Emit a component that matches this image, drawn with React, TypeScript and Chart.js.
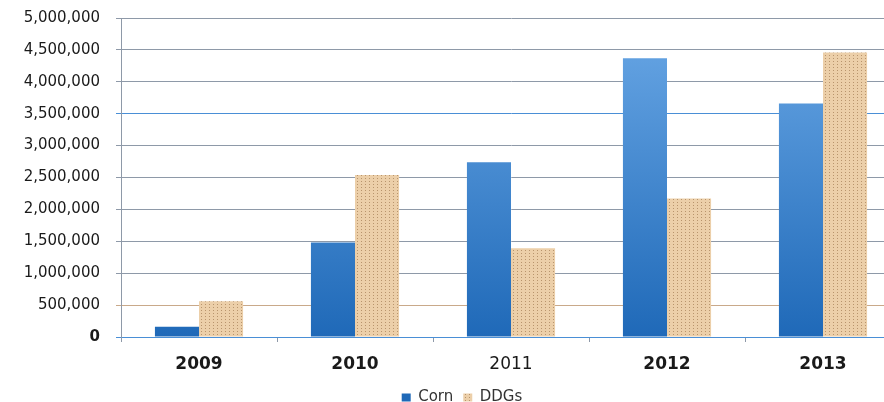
import React, { useEffect, useRef } from "react";
import { Chart, registerables } from "chart.js";

Chart.register(...registerables);

// Annual exports (tonnes) by product
const years = ["2009", "2010", "2011", "2012", "2013"];
const cornTonnes = [160000, 1480000, 2740000, 4370000, 3660000];
const ddgsTonnes = [560000, 2540000, 1390000, 2170000, 4460000];
const seriesNames = ["Corn", "DDGs"];
const yMax = 5000000;
const yStep = 500000;

const FONT = "'DejaVu Sans', Verdana, sans-serif";

function makeDotPattern(): CanvasPattern | string {
  const tile = document.createElement("canvas");
  tile.width = 4;
  tile.height = 3;
  const g = tile.getContext("2d");
  if (!g) return "#e8c9a0";
  g.fillStyle = "#eccfa9";
  g.fillRect(0, 0, 4, 3);
  g.fillStyle = "#b8946c";
  g.fillRect(1, 1, 1, 1);
  const p = g.createPattern(tile, "repeat");
  return p || "#e8c9a0";
}

export default function App() {
  const canvasRef = useRef<HTMLCanvasElement | null>(null);

  useEffect(() => {
    const canvas = canvasRef.current;
    if (!canvas) return;
    const dots = makeDotPattern();

    const cornFill = (ctx: any) => {
      const chart = ctx.chart;
      const area = chart.chartArea;
      if (ctx.type !== "data" || !area) return "#3c82cf";
      const grad = chart.ctx.createLinearGradient(0, area.top, 0, area.bottom);
      grad.addColorStop(0, "#6aa8e6");
      grad.addColorStop(1, "#1f69b8");
      return grad;
    };

    const chart = new Chart(canvas, {
      type: "bar",
      data: {
        labels: years,
        datasets: [
          {
            label: seriesNames[0],
            data: cornTonnes,
            backgroundColor: cornFill,
            borderWidth: 0,
          },
          {
            label: seriesNames[1],
            data: ddgsTonnes,
            backgroundColor: dots,
            borderWidth: 0,
          },
        ],
      },
      options: {
        responsive: false,
        animation: false,
        devicePixelRatio: 1,
        layout: { padding: { left: 23, right: 23, top: 18, bottom: 0 } },
        datasets: {
          bar: { barPercentage: 1, categoryPercentage: 0.565 },
        },
        plugins: {
          tooltip: { enabled: false },
          legend: {
            position: "bottom",
            labels: {
              boxWidth: 9,
              boxHeight: 8,
              padding: 10,
              color: "#333333",
              font: { family: FONT, size: 15 },
            },
          },
        },
        scales: {
          x: {
            afterFit: (scale: any) => {
              scale.height = 43;
            },
            grid: {
              drawOnChartArea: false,
              tickLength: 5,
              color: "#8e99a8",
            },
            border: { color: "#4a8fd6", width: 1 },
            ticks: {
              padding: 12,
              color: "#1a1a1a",
              font: (ctx: any) => ({
                family: FONT,
                size: 17,
                weight: ctx.index === 2 ? "normal" : "bold",
              }),
            },
          },
          y: {
            min: 0,
            max: yMax,
            afterFit: (scale: any) => {
              scale.width = 98;
              scale.paddingTop = 0;
              scale.paddingBottom = 0;
            },
            grid: {
              tickLength: 5,
              color: (ctx: any) => {
                const v = ctx.tick ? ctx.tick.value : -1;
                if (v === 500000) return "#c9a98a";
                if (v === 3500000 || v === 0) return "#4a8fd6";
                return "#8e99a8";
              },
            },
            border: { color: "#8e99a8", width: 1 },
            ticks: {
              stepSize: yStep,
              padding: 16,
              color: "#1a1a1a",
              font: (ctx: any) => ({
                family: FONT,
                size: 15,
                weight: ctx.tick && ctx.tick.value === 0 ? "bold" : "normal",
              }),
              callback: (v: any) => Number(v).toLocaleString("en-US"),
            },
          },
        },
      },
    });

    return () => chart.destroy();
  }, []);

  return (
    <div
      style={{
        position: "fixed",
        left: 0,
        top: 0,
        width: 884,
        height: 402,
        overflow: "hidden",
        background: "#ffffff",
      }}
    >
      <canvas ref={canvasRef} width={924} height={415} style={{ display: "block" }} />
    </div>
  );
}
